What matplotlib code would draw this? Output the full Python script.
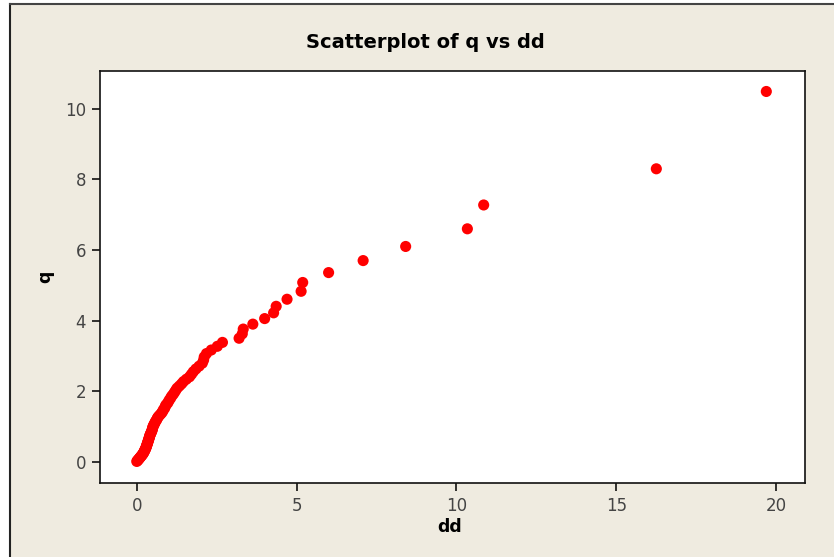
import matplotlib
matplotlib.use("Agg")
import matplotlib.pyplot as plt
from matplotlib.patches import Rectangle
from matplotlib.lines import Line2D

# Data
dd = [0.00, 0.02, 0.04, 0.06, 0.08, 0.10, 0.12, 0.14, 0.16, 0.18,
      0.20, 0.21, 0.23, 0.24, 0.25, 0.27, 0.28, 0.29, 0.30, 0.31,
      0.32, 0.33, 0.34, 0.35, 0.36, 0.37, 0.38, 0.39, 0.40, 0.41,
      0.42, 0.44, 0.45, 0.47, 0.48, 0.49, 0.50, 0.51, 0.53, 0.55,
      0.57, 0.59, 0.62, 0.64, 0.66, 0.70, 0.74, 0.78, 0.81, 0.83,
      0.87, 0.89, 0.91, 0.96, 0.99, 1.02, 1.06, 1.09, 1.14, 1.18,
      1.22, 1.26, 1.33, 1.40, 1.46, 1.55, 1.65, 1.71, 1.77, 1.85,
      1.95, 2.05, 2.09, 2.11, 2.18, 2.33, 2.52, 2.68, 3.20, 3.30,
      3.33, 3.63, 4.00, 4.28, 4.36, 4.70, 5.14, 5.19, 6.00, 7.08,
      8.41, 10.34, 10.85, 16.25, 19.69]
q = [0.011, 0.032, 0.053, 0.075, 0.097, 0.119, 0.142, 0.164, 0.187, 0.211,
     0.234, 0.258, 0.282, 0.307, 0.331, 0.356, 0.382, 0.407, 0.433, 0.460,
     0.486, 0.513, 0.541, 0.568, 0.597, 0.625, 0.654, 0.684, 0.713, 0.744,
     0.775, 0.806, 0.837, 0.870, 0.902, 0.936, 0.970, 1.004, 1.039, 1.075,
     1.111, 1.149, 1.186, 1.225, 1.264, 1.304, 1.345, 1.386, 1.429, 1.472,
     1.517, 1.562, 1.609, 1.656, 1.705, 1.755, 1.806, 1.859, 1.913, 1.969,
     2.026, 2.085, 2.145, 2.208, 2.272, 2.339, 2.408, 2.479, 2.553, 2.630,
     2.710, 2.794, 2.881, 2.972, 3.067, 3.167, 3.272, 3.383, 3.500, 3.626,
     3.760, 3.900, 4.057, 4.220, 4.405, 4.605, 4.830, 5.080, 5.360, 5.700,
     6.100, 6.600, 7.275, 8.300, 10.490]
x_ticks = [0, 5, 10, 15, 20]
y_ticks = [0, 2, 4, 6, 8, 10]

W, H = 834, 557
BG = "#EFEBE0"
fig = plt.figure(figsize=(W / 100, H / 100), dpi=100)
fig.patch.set_facecolor("white")
fig.patches.append(Rectangle((9.5 / W, 0), 1 - 9.5 / W, 1 - 3.5 / H, transform=fig.transFigure,
                             facecolor=BG, edgecolor="none", zorder=-10))
fig.lines.append(Line2D([9.5 / W, 9.5 / W], [0, 1 - 3.5 / H], transform=fig.transFigure,
                        color="#222222", lw=1.5))
fig.lines.append(Line2D([9.5 / W, 1], [1 - 3.5 / H, 1 - 3.5 / H], transform=fig.transFigure,
                        color="#444444", lw=1.5))

ax = fig.add_axes([100 / W, 1 - 483 / H, 705 / W, 412 / H])
ax.set_facecolor("white")
ax.scatter(dd, q, s=64, color="#FF0000", edgecolors="none", zorder=3)
ax.set_xlim(-1.15, 20.9)
ax.set_ylim(-0.6, 11.07)
ax.set_xticks(x_ticks)
ax.set_yticks(y_ticks)
ax.tick_params(direction="out", length=6, width=1.2, color="#111111",
               labelsize=12, labelcolor="#444444", pad=4)
for s in ax.spines.values():
    s.set_color("#111111")
    s.set_linewidth(1.2)

fig.text(425 / W, 1 - 43 / H, "Scatterplot of q vs dd", ha="center", va="center",
         fontsize=14, fontweight="bold", color="#000000")
fig.text(450 / W, 1 - 527 / H, "dd", ha="center", va="center",
         fontsize=12.5, fontweight="bold", color="#000000")
fig.text(45 / W, 1 - 277 / H, "q", ha="center", va="center", rotation=90,
         fontsize=12.5, fontweight="bold", color="#000000")

fig.savefig("out.png", dpi=100, facecolor=fig.get_facecolor())
